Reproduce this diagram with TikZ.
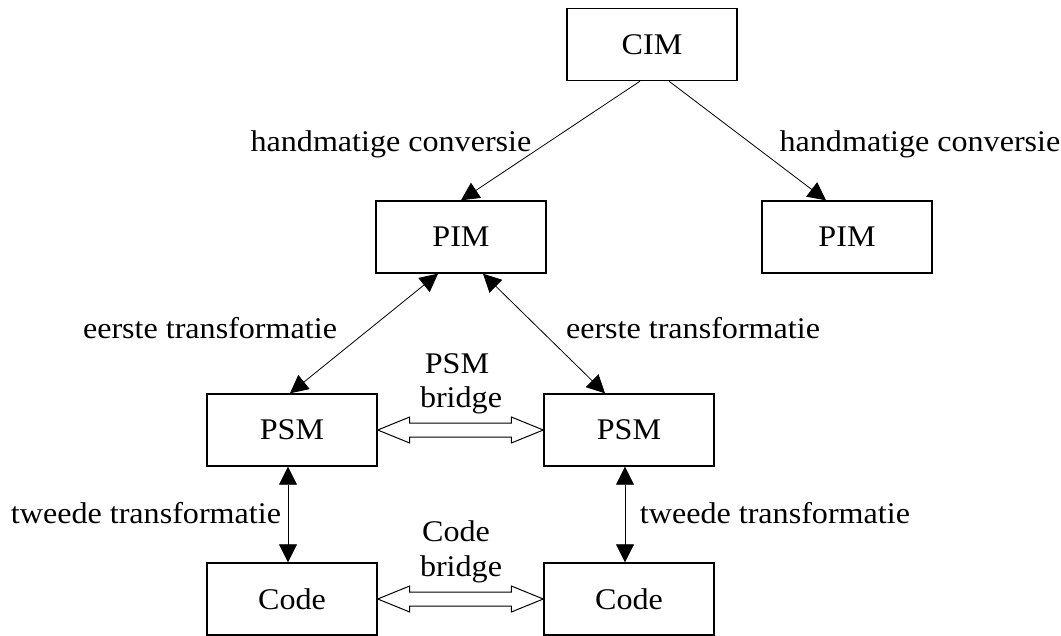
\documentclass[tikz,border=0pt]{standalone}
\usepackage{fontspec}
\setmainfont{Liberation Serif}[FakeStretch=1.07]
\usetikzlibrary{arrows.meta,calc}
\begin{document}
\begin{tikzpicture}[x=1pt,y=-1pt,
  box/.style={draw,line width=1.4pt,minimum width=170pt,minimum height=72pt,inner sep=0pt,font=\fontsize{30}{36}\selectfont},
  lbl/.style={inner sep=0pt,font=\fontsize{30}{36}\selectfont},
  conn/.style={line width=0.8pt,-{Triangle[length=18pt,width=18pt]}},
  biconn/.style={line width=0.8pt,{Triangle[length=18pt,width=18pt]}-{Triangle[length=18pt,width=18pt]}},
  bridgearrow/.style={draw,line width=1pt,fill=white}]
\useasboundingbox (0,0) rectangle (1061,635);
\node[box] (cim) at (652,44.5) {CIM};
\node[box] (pimL) at (461,237) {PIM};
\node[box] (pimR) at (847,237) {PIM};
\node[box] (psmL) at (292,430) {PSM};
\node[box] (psmR) at (629,430) {PSM};
\node[box] (codeL) at (292,599) {Code};
\node[box] (codeR) at (629,599) {Code};
% labels
\node[lbl] (hc1) at (391,144) {handmatige conversie};
\node[lbl] (hc2) at (920,144) {handmatige conversie};
\node[lbl] (et1) at (210,328) {eerste transformatie};
\node[lbl] (et2) at (693,328) {eerste transformatie};
\node[lbl] (tt1) at (146,513) {tweede transformatie};
\node[lbl] (tt2) at (775,513) {tweede transformatie};
\node[lbl,anchor=base] (pb1) at (457,373) {PSM};
\node[lbl,anchor=base] (pb2) at (461,407) {bridge};
\node[lbl,anchor=base] (cb1) at (456,541) {Code};
\node[lbl,anchor=base] (cb2) at (461,576) {bridge};
% connectors
\draw[conn] ($(cim.south)+(-12,0)$) -- (pimL.north);
\draw[conn] ($(cim.south)+(17,0)$) -- ($(pimR.north)+(-21,0)$);
\draw[biconn] ($(pimL.south)+(-23,0)$) -- ($(psmL.north)+(-2,0)$);
\draw[biconn] ($(pimL.south)+(22,0)$) -- ($(psmR.north)+(-24,0)$);
\draw[biconn] ($(psmL.south)+(-4,0)$) -- ($(codeL.north)+(-4,0)$);
\draw[biconn] ($(psmR.south)+(-4,0)$) -- ($(codeR.north)+(-4,0)$);
% bridges
\foreach \a/\b in {psmL/psmR,codeL/codeR}{
  \draw[bridgearrow] (\a.east) -- ($(\a.east)+(32,-13)$) -- ($(\a.east)+(32,-7)$)
    -- ($(\b.west)+(-32,-7)$) -- ($(\b.west)+(-32,-13)$) -- (\b.west)
    -- ($(\b.west)+(-32,13)$) -- ($(\b.west)+(-32,7)$)
    -- ($(\a.east)+(32,7)$) -- ($(\a.east)+(32,13)$) -- cycle;
}
\end{tikzpicture}
\end{document}
